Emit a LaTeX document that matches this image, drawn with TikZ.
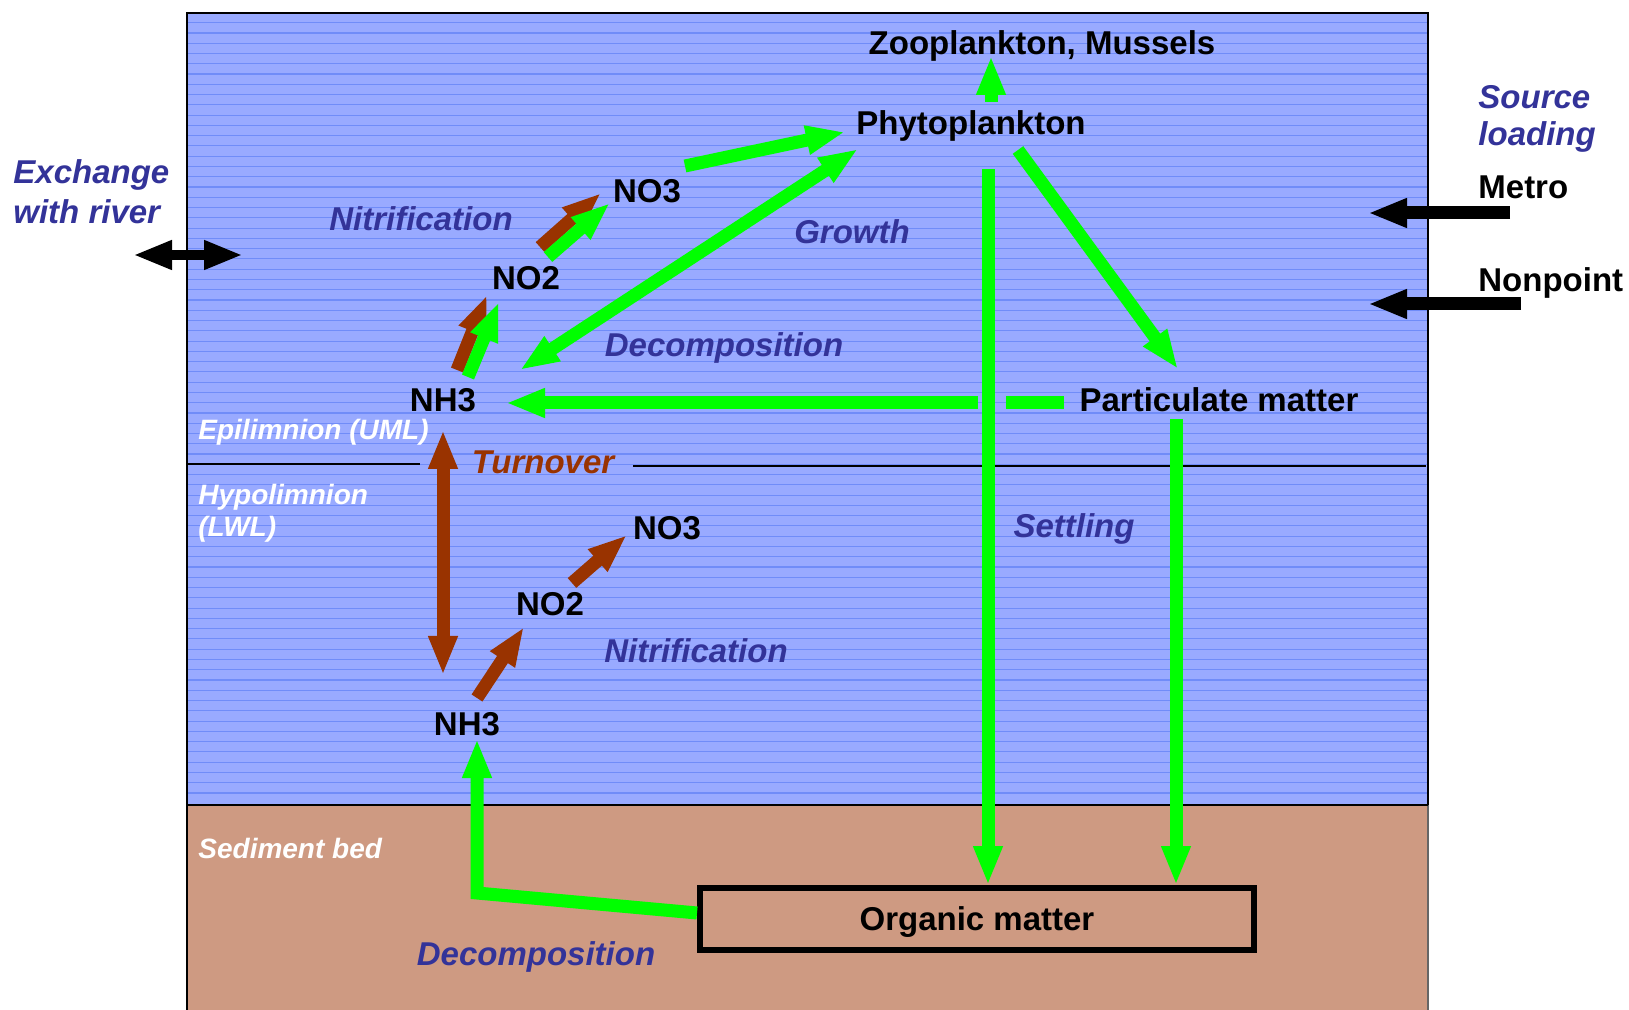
\documentclass[tikz,border=0pt]{standalone}
\usepackage{fontspec}
\setmainfont{Liberation Sans}
\usetikzlibrary{arrows.meta}

\definecolor{waterBlue}{RGB}{153,170,255}
\definecolor{waterLine}{RGB}{112,140,248}
\definecolor{sediment}{RGB}{206,154,130}
\definecolor{procBlue}{RGB}{51,51,153}
\definecolor{rust}{RGB}{153,51,0}
\definecolor{flowGreen}{RGB}{0,255,0}

\begin{document}
\begin{tikzpicture}[x=0.5pt,y=-0.5pt,>={Triangle[width=13.5pt,length=19.5pt]},
species/.style={font=\fontsize{16.5}{20}\selectfont\bfseries,inner sep=0pt},
procText/.style={font=\fontsize{16.5}{20}\selectfont\bfseries\itshape,text=procBlue,inner sep=0pt},
zone/.style={font=\fontsize{14}{16}\selectfont\bfseries\itshape,text=white,inner sep=0pt},
flow/.style={line width=6.5pt,draw=flowGreen},
rustFlow/.style={line width=6.5pt,draw=rust},
loadFlow/.style={line width=6.5pt,draw=black}
]
\useasboundingbox (0,0) rectangle (1629,1010);
% water column and sediment
\fill[waterBlue] (187,13) rectangle (1428,805);
\foreach \i in {0,...,75}
  \draw[waterLine,line width=0.55pt] (187,{22.7+10.27*\i}) -- (1428,{22.7+10.27*\i});
\fill[sediment] (187,805) rectangle (1428,1010);
\draw[line width=0.8pt] (187,1010) -- (187,13) -- (1428,13) -- (1428,805);
\draw[black!60,line width=0.6pt] (1428,805) -- (1428,1010);
\draw[line width=1.3pt] (187,805) -- (1428,805);
% thermocline
\draw[line width=0.8pt] (187,464) -- (420,464);
\draw[line width=0.8pt] (633,466) -- (1426,466);

% compartments
\node[species,anchor=base] (Zoo) at (1042,55) {Zooplankton, Mussels};
\node[species,anchor=base] (Phyto) at (971,135) {Phytoplankton};
\node[species,anchor=base] (NOthreeUp) at (647,203) {NO3};
\node[species,anchor=base] (NOtwoUp) at (526,290) {NO2};
\node[species,anchor=base] (NHthreeUp) at (443,412) {NH3};
\node[species,anchor=base] (Partic) at (1219,412) {Particulate matter};
\node[species,anchor=base] (NOthreeLow) at (667,540) {NO3};
\node[species,anchor=base] (NOtwoLow) at (550,616) {NO2};
\node[species,anchor=base] (NHthreeLow) at (467,735) {NH3};
\node[species,draw,line width=3pt,minimum width=277pt,minimum height=31pt,text depth=0pt]
  (Organic) at (977,919) {Organic matter};
\node[species,anchor=base west] (Metro) at (1478,199) {Metro};
\node[species,anchor=base west] (Nonpoint) at (1478,292) {Nonpoint};

% process labels
\node[procText,anchor=base west,align=left] (Source) at (1478,146)
  {Source\\[-1.5pt]loading};
\node[procText,anchor=base west,align=left] (Exchange) at (13,224)
  {Exchange\\[0pt]with river};
\node[procText,anchor=base] (NitrifUp) at (421,231) {Nitrification};
\node[procText,anchor=base] (Growth) at (852,244) {Growth};
\node[procText,anchor=base] (DecompUp) at (724,357) {Decomposition};
\node[procText,anchor=base] (Settling) at (1074,538) {Settling};
\node[procText,anchor=base] (NitrifLow) at (696,662) {Nitrification};
\node[procText,anchor=base] (DecompLow) at (536,965) {Decomposition};
\node[procText,anchor=base,text=rust] (Turnover) at (543,474) {Turnover};

% layers
\node[zone,anchor=base west] (Epi) at (198,440) {Epilimnion (UML)};
\node[zone,anchor=base west,align=left] (Hypo) at (198,537) {Hypolimnion\\[0pt](LWL)};
\node[zone,anchor=base west] (Sed) at (198,858) {Sediment bed};

% arrow ends
\coordinate (phytoZoo) at (991,102);   \coordinate (zooIn) at (991,56);
\coordinate (noThreeOut) at (685,166); \coordinate (phytoIn) at (845,132);
\coordinate (nhGrow) at (520,370);     \coordinate (phytoGrow) at (858,149);
\coordinate (phytoPart) at (1018,150); \coordinate (partIn) at (1178,369);
\coordinate (phytoSet) at (988,169);   \coordinate (orgSetA) at (988,885);
\coordinate (partSet) at (1176,419);   \coordinate (orgSetB) at (1176,885);
\coordinate (partOut) at (1064,403);   \coordinate (gapR) at (1006,403);
\coordinate (gapL) at (978,403);       \coordinate (nhIn) at (506,403);
\coordinate (orgOut) at (697,913);     \coordinate (bend) at (477,893);
\coordinate (nhLowIn) at (477,739);
\coordinate (nhOutG) at (468,377);     \coordinate (noTwoInG) at (499,302);
\coordinate (noTwoOutG) at (548,257);  \coordinate (noThreeInG) at (610,203);
\coordinate (nhOutR) at (457,370);     \coordinate (noTwoInR) at (487,295);
\coordinate (noTwoOutR) at (540,247);  \coordinate (noThreeInR) at (601,193);
\coordinate (turnTop) at (443,430);    \coordinate (turnBot) at (443,675);
\coordinate (nhLowOut) at (477,698);   \coordinate (noTwoLowIn) at (524,627);
\coordinate (noTwoLowOut) at (572,583);\coordinate (noThreeLowIn) at (627,535);
\coordinate (metroOut) at (1510,213);  \coordinate (metroIn) at (1368,213);
\coordinate (npOut) at (1521,304);     \coordinate (npIn) at (1368,304);
\coordinate (riverL) at (133,255);     \coordinate (riverR) at (243,255);

% nitrification and turnover
\draw[rustFlow,->] (nhOutR) -- (noTwoInR);
\draw[rustFlow,->] (noTwoOutR) -- (noThreeInR);
\draw[rustFlow,<->] (turnTop) -- (turnBot);
\draw[rustFlow,->] (nhLowOut) -- (noTwoLowIn);
\draw[rustFlow,->] (noTwoLowOut) -- (noThreeLowIn);

% nutrient cycle
\draw[flow,->] (nhOutG) -- (noTwoInG);
\draw[flow,->] (noTwoOutG) -- (noThreeInG);
\draw[flow,->] (phytoZoo) -- (zooIn);
\draw[flow,->] (noThreeOut) -- (phytoIn);
\draw[flow,<->] (nhGrow) -- (phytoGrow);
\draw[flow,->] (phytoPart) -- (partIn);
\draw[flow,->] (phytoSet) -- (orgSetA);
\draw[flow,->] (partSet) -- (orgSetB);
\draw[flow] (partOut) -- (gapR);
\draw[flow,->] (gapL) -- (nhIn);
\draw[flow,->] (orgOut) -- (bend) -- (nhLowIn);

% loading and exchange
\draw[loadFlow,->] (metroOut) -- (metroIn);
\draw[loadFlow,->] (npOut) -- (npIn);
\draw[loadFlow,line width=5pt,<->] (riverL) -- (riverR);
\end{tikzpicture}
\end{document}
